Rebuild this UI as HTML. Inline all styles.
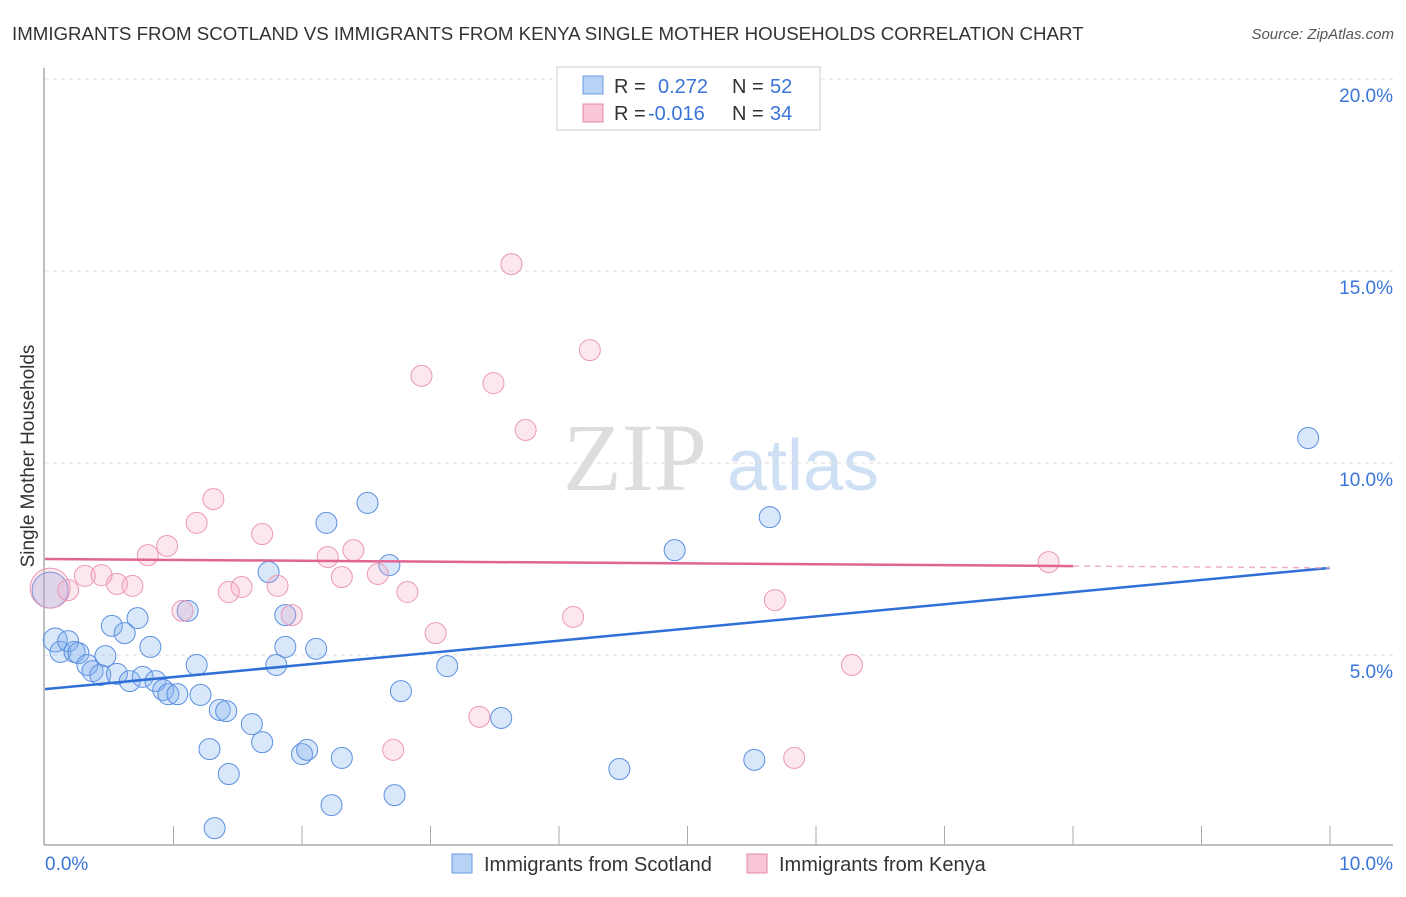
<!DOCTYPE html>
<html><head><meta charset="utf-8"><style>
body{margin:0;background:#fff;font-family:"Liberation Sans",sans-serif}
</style></head><body>
<svg id="chart" width="1406" height="892" xmlns="http://www.w3.org/2000/svg" font-family="Liberation Sans, sans-serif">
<text x="12" y="40" font-size="18.7" fill="#333">IMMIGRANTS FROM SCOTLAND VS IMMIGRANTS FROM KENYA SINGLE MOTHER HOUSEHOLDS CORRELATION CHART</text>
<text x="1394" y="39" font-size="15" fill="#555" font-style="italic" text-anchor="end">Source: ZipAtlas.com</text>
<text x="34" y="456" font-size="19" fill="#333" text-anchor="middle" transform="rotate(-90 34 456)">Single Mother Households</text>
<g><text x="635" y="490" font-size="96" fill="#ddd" font-family="Liberation Serif, serif" text-anchor="middle">ZIP</text><text x="803" y="490" font-size="72" fill="#cfe0f5" text-anchor="middle">atlas</text></g>
<g id="grid"></g><g id="axes"></g><g id="points"></g><g id="trends"></g>
<g>
<rect x="557" y="67" width="263" height="63" fill="#fff" stroke="#ccc"/>
<rect x="583" y="76" width="20" height="18" fill="#b8d2f5" stroke="#6a9ae0"/>
<text x="614" y="93" font-size="20" fill="#333">R = </text><text x="658" y="93" font-size="20" fill="#3a74d8">0.272</text>
<text x="732" y="93" font-size="20" fill="#333">N = </text><text x="770" y="93" font-size="20" fill="#3a74d8">52</text>
<rect x="583" y="104" width="20" height="18" fill="#f8c6d5" stroke="#e58aa8"/>
<text x="614" y="120" font-size="20" fill="#333">R = </text><text x="648" y="120" font-size="20" fill="#3a74d8">-0.016</text>
<text x="732" y="120" font-size="20" fill="#333">N = </text><text x="770" y="120" font-size="20" fill="#3a74d8">34</text>
</g>
<g>
<rect x="452" y="854" width="20" height="19" fill="#b8d2f5" stroke="#6a9ae0"/>
<text x="484" y="871" font-size="20" fill="#333">Immigrants from Scotland</text>
<rect x="747" y="854" width="20" height="19" fill="#f8c6d5" stroke="#e58aa8"/>
<text x="779" y="871" font-size="20" fill="#333">Immigrants from Kenya</text>
</g>
</svg>
<script>
const yTicks=[5,10,15,20];
const yTickLabels=["5.0%","10.0%","15.0%","20.0%"];
const xTickLabels=["0.0%","10.0%"];
const scotX=[.04,.08,.12,.18,.23,.26,.33,.37,.43,.47,.52,.56,.62,.66,.72,.76,.82,.86,.92,.96,1.03,1.11,1.18,1.21,1.36,1.41,1.28,1.43,1.61,1.69,1.32,1.74,1.80,1.87,1.87,2.00,2.04,2.11,2.19,2.23,2.31,2.51,2.68,2.72,2.77,3.13,3.55,4.47,4.90,5.52,5.64,9.83];
const scotY=[6.69,5.39,5.08,5.36,5.08,5.05,4.74,4.58,4.48,4.97,5.76,4.51,5.57,4.32,5.96,4.43,5.21,4.32,4.09,3.98,3.98,6.15,4.74,3.96,3.57,3.54,2.55,1.90,3.20,2.73,0.49,7.16,4.74,6.04,5.21,2.42,2.53,5.16,8.44,1.09,2.32,8.96,7.34,1.35,4.06,4.71,3.36,2.03,7.73,2.27,8.59,10.65];
const kenyaX=[.04,.18,.31,.44,.56,.68,.80,.95,1.07,1.18,1.31,1.43,1.53,1.69,1.81,1.92,2.20,2.31,2.40,2.59,2.82,2.93,3.04,3.38,3.49,3.63,3.74,4.11,4.24,5.68,5.83,6.28,7.81,2.71];
const kenyaY=[6.74,6.69,7.06,7.08,6.85,6.80,7.60,7.84,6.15,8.44,9.06,6.64,6.77,8.15,6.80,6.04,7.55,7.03,7.73,7.11,6.64,12.27,5.57,3.39,12.08,15.18,10.86,5.99,12.94,6.43,2.32,4.74,7.42,2.53];
const scotTrend=[4.11,7.27];
const kenyaTrend=[7.50,7.27];
const kenyaSolidEnd=8.0;
const xMax=10;
const X=v=>45+v*128.5;
const Y=v=>847-v*38.4;
const NS="http://www.w3.org/2000/svg";
function mk(parent,tag,attrs){const e=document.createElementNS(NS,tag);for(const k in attrs)e.setAttribute(k,attrs[k]);document.getElementById(parent).appendChild(e);return e;}
yTicks.forEach((t,i)=>{
 const l=mk('grid','line',{x1:45,x2:1393,y1:Y(t),y2:Y(t),stroke:'#ddd','stroke-dasharray':'4,4'});
 
 
 const tx=mk('grid','text',{x:1393,y:Y(t)+23,'font-size':19,fill:'#3a74d8','text-anchor':'end'});
 tx.textContent=yTickLabels[i];
 
 
});
const ya=mk('axes','line',{x1:44,x2:44,y1:68,y2:845,stroke:'#aaa','stroke-width':1.5});


const xa=mk('axes','line',{x1:44,x2:1393,y1:845,y2:845,stroke:'#aaa','stroke-width':1.5});


for(let i=1;i<=10;i++){
 const t=mk('axes','line',{x1:X(i),x2:X(i),y1:826,y2:845,stroke:'#aaa'});
 
 
}
const xl0=mk('axes','text',{x:45,y:870,'font-size':19,fill:'#3a74d8'});xl0.textContent=xTickLabels[0];


const xl1=mk('axes','text',{x:1393,y:870,'font-size':19,fill:'#3a74d8','text-anchor':'end'});xl1.textContent=xTickLabels[1];


scotX.forEach((v,i)=>{
 const c=mk('points','circle',{cx:X(v),cy:Y(scotY[i]),r:i===0?18:(i===1?12:10.5),fill:'rgba(130,175,240,0.3)',stroke:'#5b8fe0','stroke-width':1});
 
 
});
kenyaX.forEach((v,i)=>{
 const c=mk('points','circle',{cx:X(v),cy:Y(kenyaY[i]),r:i===0?20:10.5,fill:'rgba(245,160,190,0.25)',stroke:'#eb98b5','stroke-width':1});
 
 
});
const bt=mk('trends','line',{x1:X(0),y1:Y(scotTrend[0]),x2:X(xMax),y2:Y(scotTrend[1]),stroke:'#2f6fd6','stroke-width':2.5});


const kyAt=x=>kenyaTrend[0]+(kenyaTrend[1]-kenyaTrend[0])*x/xMax;
const kt=mk('trends','line',{x1:X(0),y1:Y(kenyaTrend[0]),x2:X(kenyaSolidEnd),y2:Y(kyAt(kenyaSolidEnd)),stroke:'#e06592','stroke-width':2.5});


const kd=mk('trends','line',{x1:X(kenyaSolidEnd),y1:Y(kyAt(kenyaSolidEnd)),x2:X(xMax),y2:Y(kenyaTrend[1]),stroke:'#eeb0c6','stroke-width':1.5,'stroke-dasharray':'6,5'});


</script>
</body></html>
